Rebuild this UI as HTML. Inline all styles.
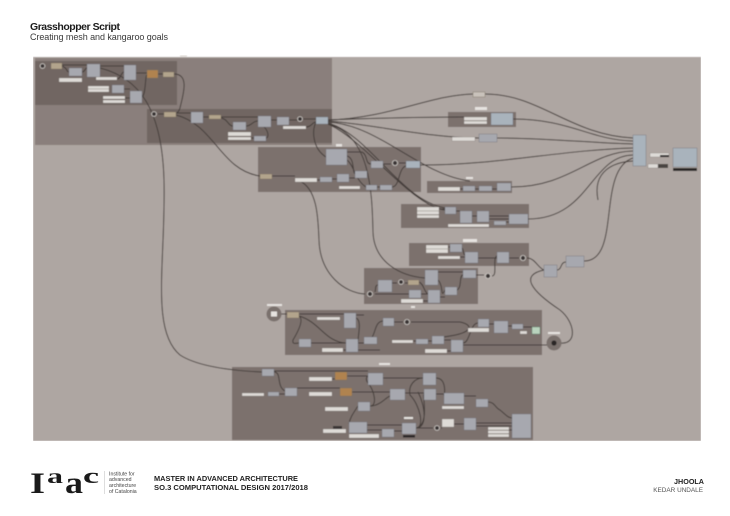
<!DOCTYPE html>
<html><head><meta charset="utf-8"><title>Grasshopper Script</title>
<style>
html,body{margin:0;padding:0;background:#fff;width:730px;height:516px;overflow:hidden}
svg{display:block}
text{font-family:"Liberation Sans",sans-serif}
.n{fill:#a7a8af;stroke:#74747a;stroke-width:.4}
.b{fill:#a9b3bc;stroke:#74747a;stroke-width:.4}
.t{fill:#b3a48c;stroke:#7b705f;stroke-width:.4}
.o{fill:#b08350;stroke:#7b705f;stroke-width:.4}
.s{fill:#dedbd7;stroke:#77706c;stroke-width:.3}
.k{fill:#2a2725}
.c{fill:#3a3634;stroke:#cfcac6;stroke-width:.8}
.w{fill:none;stroke:#443d3a;stroke-width:1}
.l{fill:#e6e3e0}
</style></head><body>
<svg width="730" height="516" viewBox="0 0 730 516" xmlns="http://www.w3.org/2000/svg">
<defs><filter id="f" x="0" y="0" width="100%" height="100%"><feGaussianBlur stdDeviation=".4"/></filter></defs>
<rect width="730" height="516" fill="#fff"/>
<text x="30" y="30" font-size="10.5" font-weight="700" fill="#1c1c1c" textLength="90">Grasshopper Script</text>
<text x="30" y="40" font-size="9" fill="#3a3a3a" textLength="138">Creating mesh and kangaroo goals</text>
<g filter="url(#f)">
<rect x="33" y="57" width="668" height="384" fill="#aea6a2"/>
<!-- groups -->
<rect x="35" y="58" width="297" height="87" fill="#8a7f7b"/>
<rect x="35" y="61" width="142" height="44" fill="#716662"/>
<rect x="147" y="109" width="185" height="34" fill="#716662"/>
<rect x="258" y="147" width="163" height="45" fill="#7c716d"/>
<rect x="448" y="112" width="68" height="15" fill="#7c716d"/>
<rect x="427" y="181" width="85" height="12" fill="#7c716d"/>
<rect x="401" y="204" width="128" height="24" fill="#7c716d"/>
<rect x="409" y="243" width="120" height="23" fill="#7c716d"/>
<rect x="364" y="268" width="114" height="36" fill="#7c716d"/>
<rect x="285" y="310" width="257" height="45" fill="#7c716d"/>
<rect x="232" y="367" width="301" height="73" fill="#7c716d"/>
<!-- wires -->
<g class="w">
<path d="M100,68C140,78 162,110 164,180C166,260 150,330 180,355C200,368 240,371 262,372"/>
<path d="M62,65H87M62,66C68,68 66,72 69,72M82,72C85,72 85,68 87,68M100,66H124M117,79C121,79 121,72 124,72M136,73H147M158,74H163M124,89H130M142,97C146,95 145,75 147,75M125,98H130"/>
<path d="M174,74C190,74 183,95 180,108C178,115 172,114 176,114"/>
<path d="M158,114H164M176,113H191M203,117H209M221,117H258M221,118C228,119 228,126 233,126M246,126C252,126 252,121 258,121M251,138H254M266,138C270,138 268,125 258,125M271,120H277M289,120H300M306,127C312,127 312,122 316,122M303,119H316"/>
<path d="M176,115C215,125 220,170 260,176"/>
<path d="M272,176H295M317,180H320M332,179H337M349,178H355"/>
<path d="M316,122C312,130 312,148 326,157"/>
<path d="M347,152H362C368,155 365,164 371,164M347,156C355,158 352,172 355,174M347,160C354,165 355,180 366,187M383,164H391M399,163H406M377,187H380M392,187C400,187 398,168 406,166"/>
<path d="M328,120C390,118 430,95 473,94M485,94C540,94 570,135 633,138"/>
<path d="M328,120C380,118 430,117 464,117M513,119C570,119 590,140 633,141"/>
<path d="M328,121C370,124 430,138 479,138M497,138C550,138 590,143 633,144"/>
<path d="M420,165C500,165 560,150 633,148"/>
<path d="M511,187C570,187 590,152 633,151"/>
<path d="M528,219C590,219 590,156 633,155"/>
<path d="M584,261C622,261 596,170 633,158"/>
<path d="M598,200C592,170 615,162 633,161"/>
<path d="M328,122C380,125 420,175 470,181"/>
<path d="M328,123C370,135 400,200 445,208M328,124C365,140 410,205 445,210"/>
<path d="M328,124C370,135 372,190 373,232C374,262 400,276 425,278"/>
<path d="M300,181C318,190 318,220 319,240C320,275 345,293 365,294"/>
<path d="M460,189H463M475,189H479M492,189H497"/>
<path d="M439,209H445M456,211H460M472,216H477M489,216H509M489,219H509M506,222H509"/>
<path d="M448,247H450M460,257H465M462,248C464,250 463,255 465,255M478,258H497M509,258H519M527,258C535,258 538,268 544,270M557,270C562,270 560,262 566,262"/>
<path d="M544,270C520,275 530,290 560,310C575,322 578,345 560,343"/>
<path d="M438,272H463M476,275H484M492,276C498,276 492,258 497,256M438,280C444,285 440,300 445,290M375,294H409M375,292C376,288 375,285 378,285M392,283H397M405,283H408M419,282C424,284 424,292 428,294M421,294H428M423,301H428M440,297H445M457,290C462,288 459,275 463,275"/>
<path d="M281,314H287M299,314H344M299,316C305,320 296,335 293,340C292,345 296,343 299,343M299,316C320,322 325,342 346,343M311,343H346M343,350H346M356,318C362,320 358,335 358,342M356,315H364M358,343H364C378,340 372,322 383,321M394,322H403M411,322H460C475,325 475,335 432,338M413,341H416M428,341H432M444,340H451M447,351H451M358,350H380M463,345H547M463,343C470,343 470,323 478,323M489,324H494M508,326H512M523,327H532"/>
<path d="M274,372C282,372 276,386 285,391M279,394H285M297,388H340M274,371H368M332,379H335M347,376H368M352,392H390M383,378H423M405,393H424M436,394H444M436,378C446,378 445,392 444,396M464,396H476M488,402C495,402 495,408 500,410C505,414 508,418 512,418"/>
<path d="M370,406C378,406 374,390 368,383C362,375 374,372 380,378M358,406C352,415 350,418 349,424M370,406C380,406 385,398 390,396"/>
<path d="M367,425H402M367,430H382M394,431H402M416,428H433M441,428H442M454,424H464M476,423H512M476,426H512M509,430H512"/>
<path d="M416,428C425,428 420,405 410,395C408,385 415,378 423,378M416,428C428,428 425,405 418,392M416,428C430,425 422,395 424,394"/>
</g>
<!-- circles -->
<g class="c">
<circle cx="42.5" cy="66" r="2.4"/><circle cx="154" cy="114" r="2.4"/><circle cx="300" cy="119" r="2.4"/>
<circle cx="395" cy="163" r="2.6"/><circle cx="523" cy="258" r="2.6"/><circle cx="488" cy="276" r="2.6"/>
<circle cx="401" cy="282" r="2.4"/><circle cx="370" cy="294" r="2.6"/><circle cx="407" cy="322" r="2.6"/><circle cx="437" cy="428" r="2.4"/>
</g>
<circle cx="274" cy="314" r="7.5" fill="#7a716d"/><rect x="271" y="311.5" width="6" height="5" fill="#e6e3e0"/>
<circle cx="554" cy="343" r="7.5" fill="#7a716d"/><circle cx="554" cy="343" r="2.6" fill="#2a2725"/>
<!-- nodes -->
<g class="n">
<rect x="69" y="68" width="13" height="8"/><rect x="87" y="64" width="13" height="13"/><rect x="124" y="65" width="12" height="15"/>
<rect x="112" y="85" width="12" height="8"/><rect x="130" y="91" width="12" height="12"/>
<rect x="191" y="112" width="12" height="11"/><rect x="233" y="122" width="13" height="8"/><rect x="258" y="116" width="13" height="11"/>
<rect x="277" y="117" width="12" height="8"/><rect x="254" y="136" width="12" height="5"/>
<rect x="326" y="149" width="21" height="16"/><rect x="320" y="177" width="12" height="5"/><rect x="337" y="174" width="12" height="8"/>
<rect x="371" y="161" width="12" height="7"/><rect x="355" y="171" width="12" height="7"/><rect x="366" y="185" width="11" height="5"/><rect x="380" y="185" width="12" height="5"/>
<rect x="479" y="134" width="18" height="8"/><rect x="463" y="186" width="12" height="5"/><rect x="479" y="186" width="13" height="5"/><rect x="497" y="183" width="14" height="8"/>
<rect x="445" y="207" width="11" height="7"/><rect x="460" y="211" width="12" height="12"/><rect x="477" y="211" width="12" height="11"/><rect x="494" y="221" width="12" height="4"/><rect x="509" y="214" width="19" height="10"/>
<rect x="450" y="244" width="12" height="8"/><rect x="465" y="252" width="13" height="11"/><rect x="497" y="252" width="12" height="11"/>
<rect x="544" y="265" width="13" height="12"/><rect x="566" y="256" width="18" height="11"/>
<rect x="425" y="270" width="13" height="15"/><rect x="463" y="270" width="13" height="8"/><rect x="378" y="280" width="14" height="12"/><rect x="409" y="290" width="12" height="8"/><rect x="428" y="290" width="12" height="13"/><rect x="445" y="287" width="12" height="8"/>
<rect x="344" y="313" width="12" height="15"/><rect x="383" y="318" width="11" height="8"/><rect x="299" y="339" width="12" height="8"/><rect x="346" y="339" width="12" height="13"/><rect x="364" y="337" width="13" height="7"/><rect x="416" y="339" width="12" height="5"/><rect x="432" y="336" width="12" height="8"/><rect x="451" y="340" width="12" height="12"/><rect x="478" y="319" width="11" height="8"/><rect x="494" y="321" width="14" height="12"/><rect x="512" y="324" width="11" height="5"/>
<rect x="262" y="369" width="12" height="7"/><rect x="368" y="373" width="15" height="12"/><rect x="423" y="373" width="13" height="12"/><rect x="268" y="392" width="11" height="4"/><rect x="285" y="388" width="12" height="8"/><rect x="390" y="389" width="15" height="11"/><rect x="424" y="389" width="12" height="11"/><rect x="444" y="393" width="20" height="11"/><rect x="476" y="399" width="12" height="8"/><rect x="358" y="402" width="12" height="9"/><rect x="349" y="422" width="18" height="11"/><rect x="382" y="429" width="12" height="8"/><rect x="402" y="423" width="14" height="11"/><rect x="464" y="418" width="12" height="12"/><rect x="512" y="414" width="19" height="24"/>
</g>
<g class="b">
<rect x="316" y="117" width="12" height="7"/><rect x="491" y="113" width="22" height="12"/><rect x="406" y="161" width="14" height="7"/><rect x="633" y="135" width="13" height="31"/><rect x="673" y="148" width="24" height="19"/>
</g>
<rect x="673" y="168" width="24" height="3" class="k"/><rect x="403" y="435" width="12" height="2.5" class="k"/>
<g class="t">
<rect x="51" y="63" width="11" height="6"/><rect x="163" y="72" width="11" height="5"/><rect x="164" y="112" width="12" height="5"/><rect x="209" y="115" width="12" height="4"/><rect x="260" y="174" width="12" height="5"/><rect x="408" y="280" width="11" height="5"/><rect x="287" y="312" width="12" height="6"/><rect x="473" y="92" width="12" height="5" fill="#c9c2bb"/>
</g>
<g class="o"><rect x="147" y="70" width="11" height="8"/><rect x="335" y="372" width="12" height="8"/><rect x="340" y="388" width="12" height="8"/></g>
<!-- sliders -->
<g class="s">
<rect x="59" y="78" width="23" height="4"/><rect x="96" y="77" width="21" height="3"/><rect x="88" y="86" width="21" height="3"/><rect x="88" y="89" width="21" height="3"/><rect x="103" y="96" width="22" height="3"/><rect x="103" y="100" width="22" height="3"/>
<rect x="283" y="126" width="23" height="3"/><rect x="228" y="132" width="23" height="4"/><rect x="228" y="137" width="23" height="3"/><rect x="295" y="178" width="22" height="4"/><rect x="339" y="186" width="21" height="3"/>
<rect x="464" y="117" width="23" height="3.5"/><rect x="464" y="121" width="23" height="3"/><rect x="452" y="137" width="23" height="4"/><rect x="438" y="187" width="22" height="4"/><rect x="417" y="207" width="22" height="4"/><rect x="417" y="211" width="22" height="3.5"/><rect x="417" y="215" width="22" height="3"/><rect x="448" y="224" width="41" height="3"/>
<rect x="426" y="245" width="22" height="4"/><rect x="426" y="249" width="22" height="4"/><rect x="438" y="256" width="22" height="3"/><rect x="401" y="299" width="22" height="4"/>
<rect x="317" y="317" width="23" height="3"/><rect x="392" y="340" width="21" height="3"/><rect x="425" y="349" width="22" height="4"/><rect x="322" y="348" width="21" height="4"/><rect x="468" y="328" width="21" height="4"/><rect x="520" y="331" width="7" height="3"/>
<rect x="309" y="377" width="23" height="4"/><rect x="242" y="393" width="22" height="3"/><rect x="309" y="392" width="23" height="4"/><rect x="442" y="406" width="22" height="3"/><rect x="325" y="407" width="23" height="4"/><rect x="323" y="429" width="23" height="4"/><rect x="349" y="434" width="30" height="4"/><rect x="442" y="419" width="12" height="8"/><rect x="488" y="427" width="21" height="3"/><rect x="488" y="430.5" width="21" height="3"/><rect x="488" y="434" width="21" height="3"/>
<rect x="650" y="153" width="19" height="4"/><rect x="648" y="164" width="10" height="4"/>
</g>
<rect x="660" y="155" width="9" height="2" class="k"/><rect x="658" y="164" width="10" height="4" fill="#4a4542"/><rect x="333" y="426" width="9" height="3" fill="#3a3634"/>
<rect x="532" y="327" width="8" height="7" fill="#b9d3be" stroke="#5d7a66" stroke-width=".4"/>
<!-- small labels -->
<g class="l">
<rect x="180" y="55" width="7" height="2"/><rect x="336" y="144" width="6" height="2.5"/><rect x="475" y="107" width="12" height="3"/><rect x="466" y="177" width="7" height="2"/><rect x="463" y="239" width="14" height="3"/><rect x="267" y="304" width="15" height="2"/><rect x="411" y="306" width="4" height="2"/><rect x="548" y="332" width="12" height="2"/><rect x="379" y="363" width="11" height="2"/><rect x="404" y="417" width="9" height="2"/>
</g>
</g>
<!-- footer -->
<text x="30" y="493" style="font-family:'Liberation Serif',serif" font-size="30" font-weight="700" fill="#1a1a1a" textLength="15" lengthAdjust="spacingAndGlyphs">I</text>
<text x="47" y="483" style="font-family:'Liberation Serif',serif" font-size="20" font-weight="700" fill="#1a1a1a" textLength="16" lengthAdjust="spacingAndGlyphs">a</text>
<text x="65" y="493" style="font-family:'Liberation Serif',serif" font-size="31" font-weight="700" fill="#1a1a1a" textLength="18" lengthAdjust="spacingAndGlyphs">a</text>
<text x="83" y="483" style="font-family:'Liberation Serif',serif" font-size="22" font-weight="700" fill="#1a1a1a" textLength="16" lengthAdjust="spacingAndGlyphs">c</text>
<rect x="104" y="471" width=".5" height="23" fill="#bbb"/>
<g font-size="5.2" fill="#444">
<text x="109" y="475.5">Institute for</text><text x="109" y="481">advanced</text><text x="109" y="487">architecture</text><text x="109" y="493">of Catalonia</text>
</g>
<text x="154" y="481" font-size="7.2" font-weight="700" fill="#222" textLength="144" lengthAdjust="spacingAndGlyphs">MASTER IN ADVANCED ARCHITECTURE</text>
<text x="154" y="490" font-size="7.2" font-weight="700" fill="#222" textLength="154" lengthAdjust="spacingAndGlyphs">SO.3 COMPUTATIONAL DESIGN 2017/2018</text>
<text x="704" y="484" font-size="7.2" font-weight="700" fill="#222" text-anchor="end">JHOOLA</text>
<text x="703" y="492" font-size="6.4" fill="#555" text-anchor="end">KEDAR UNDALE</text>
</svg>
</body></html>
